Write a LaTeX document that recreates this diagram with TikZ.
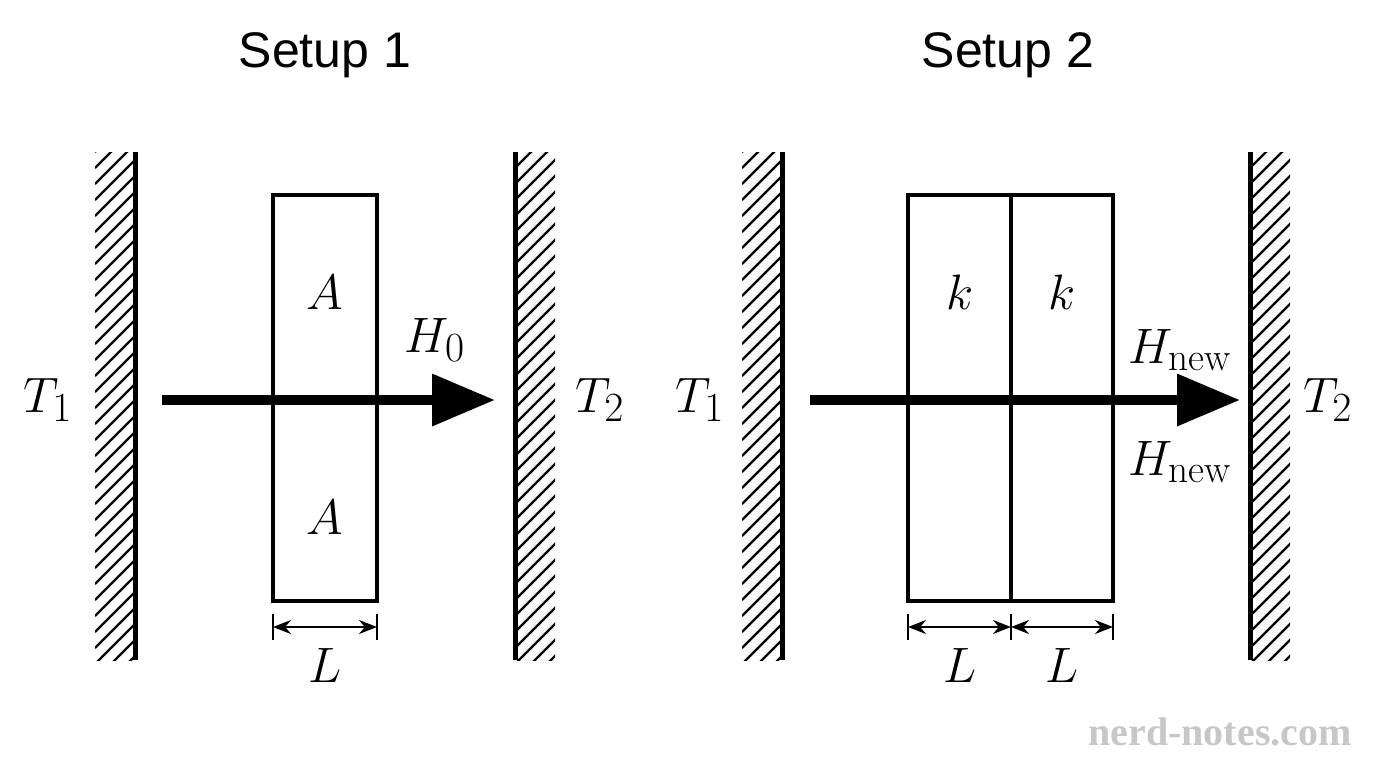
\documentclass[tikz,border=0pt]{standalone}
\usepackage{fontspec}
\newfontfamily\titlefont{Liberation Sans}
\newfontfamily\wmfont{Liberation Serif}
\usetikzlibrary{arrows.meta}
\begin{document}
\begin{tikzpicture}[x=0.5pt,y=-0.5pt,
  wall/.style={line width=2.5pt},
  box/.style={line width=1.7pt},
  hatch/.style={line width=1.1pt},
  flow/.style={line width=5pt,-{Triangle[length=31.5pt,width=25pt]}},
  dim/.style={line width=1pt,{Stealth[length=9pt,width=7pt]}-{Stealth[length=9pt,width=7pt]}},
  tick/.style={line width=1pt},
  lbl/.style={font=\fontsize{28}{30}\selectfont},
  ttl/.style={font=\titlefont\fontsize{25}{28}\selectfont}]
\useasboundingbox (0,0) rectangle (1376,768);
% walls with hatching
\foreach \xl/\xr/\wx in {95/135/135, 515/555/515, 742/782/782, 1250/1290/1250}{
  \begin{scope}
    \clip (\xl,152) rectangle (\xr,660);
    \foreach \k in {0,16,...,600}{
      \draw[hatch] (\xl,152+\k) -- ++(60,-60);
    }
  \end{scope}
  \draw[wall] (\wx,152) -- (\wx,660);
}
% Setup 1
\node[ttl] (t1) at (325,55) {Setup 1};
\draw[box] (273,195) rectangle (377,601);
\node[lbl] (a1) at (325,292) {$A$};
\node[lbl] (a2) at (325,517) {$A$};
\coordinate (s1) at (162,400); \coordinate (e1) at (495,400);
\draw[flow] (s1) -- (e1);
\node[lbl] (h0) at (435,340) {$H_0$};
\node[lbl] (T11) at (48,400) {$T_1$};
\node[lbl] (T21) at (600,400) {$T_2$};
\draw[tick] (273,614) -- (273,640); \draw[tick] (377,614) -- (377,640);
\coordinate (d1a) at (273,627); \coordinate (d1b) at (377,627);
\draw[dim] (d1a) -- (d1b);
\node[lbl] (L1) at (325,665) {$L$};
% Setup 2
\node[ttl] (t2) at (1008,55) {Setup 2};
\draw[box] (908,195) rectangle (1113,601);
\draw[box] (1011,195) -- (1011,601);
\node[lbl] (k1) at (960,292) {$k$};
\node[lbl] (k2) at (1062,292) {$k$};
\coordinate (s2) at (810,400); \coordinate (e2) at (1240,400);
\draw[flow] (s2) -- (e2);
\node[lbl] (hn1) at (1180,350) {$H_{\mathrm{new}}$};
\node[lbl] (hn2) at (1180,462) {$H_{\mathrm{new}}$};
\node[lbl] (T12) at (700,400) {$T_1$};
\node[lbl] (T22) at (1328,400) {$T_2$};
\draw[tick] (908,614) -- (908,640); \draw[tick] (1011,614) -- (1011,640); \draw[tick] (1113,614) -- (1113,640);
\coordinate (d2a) at (908,627); \coordinate (d2b) at (1011,627); \coordinate (d2c) at (1113,627);
\draw[dim] (d2a) -- (d2b);
\draw[dim] (d2b) -- (d2c);
\node[lbl] (L2) at (960,665) {$L$};
\node[lbl] (L3) at (1062,665) {$L$};
\node[font=\wmfont\bfseries\fontsize{20}{22}\selectfont,text=black!22] (wm) at (1220,732) {nerd-notes.com};
\end{tikzpicture}
\end{document}
